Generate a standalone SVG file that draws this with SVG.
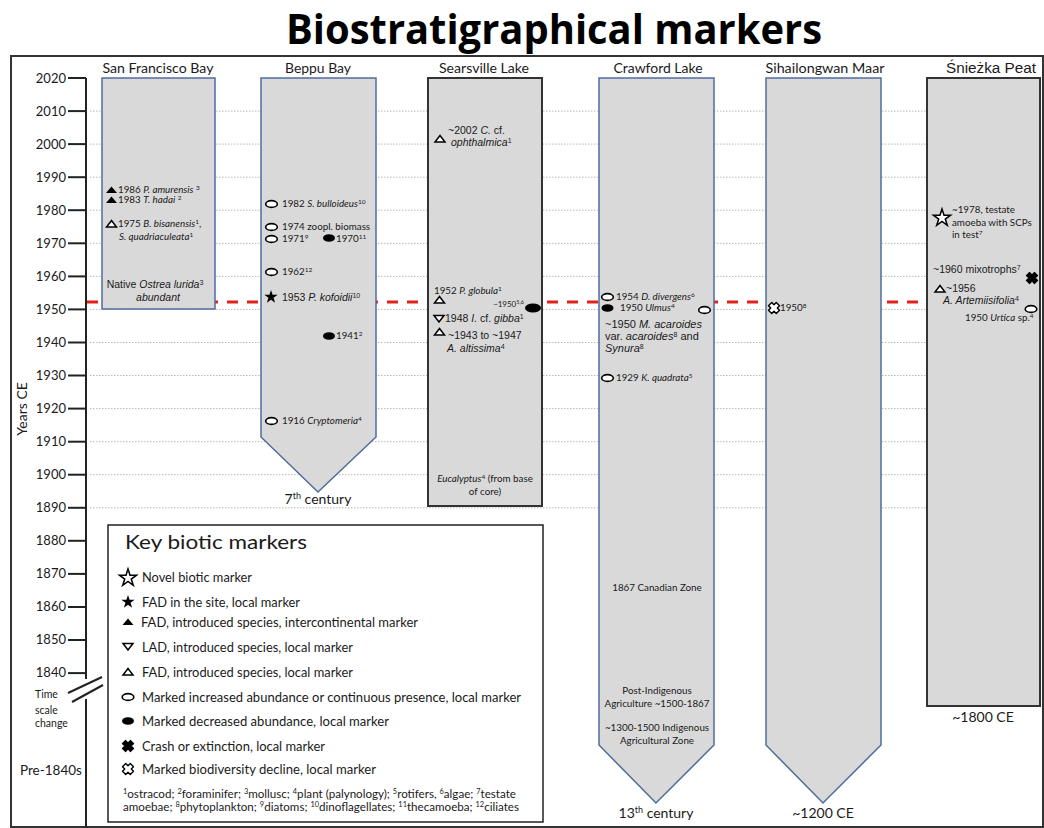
<svg xmlns="http://www.w3.org/2000/svg" width="1044" height="828" viewBox="0 0 1044 828">
<style>
text{font-family:Lato,"Liberation Sans",sans-serif;fill:#1a1a1a}
.ttl{font-family:"Open Sans","Liberation Sans",sans-serif;font-weight:700;font-size:42px;fill:#000}
.ct{font-size:14px}
.ax{font-size:13px;text-anchor:end}
.s{font-size:9.8px}
.a{font-family:"Liberation Sans",Arial,sans-serif;font-size:10.5px}
.lg{font-size:13px}
.fn{font-size:11px}
.m{text-anchor:middle}
.i{font-style:italic}
.grid{stroke:#b8b8b8;stroke-width:1;stroke-dasharray:1.5 1.5}
.tick{stroke:#222;stroke-width:2}
.colb{fill:#d9d9d9;stroke:#4f6c9e;stroke-width:1.5}
.cold{fill:#d9d9d9;stroke:#333;stroke-width:2}
</style>
<defs>
<polygon id="triF" points="-5.5,3 5.5,3 0,-3.5" fill="#000"/>
<polygon id="triO" points="-5,3 5,3 0,-3.5" fill="#fff" stroke="#000" stroke-width="1.5"/>
<polygon id="triD" points="-5,-3 5,-3 0,3.5" fill="#fff" stroke="#000" stroke-width="1.5"/>
<ellipse id="ellO" rx="5.8" ry="3.4" fill="#fff" stroke="#000" stroke-width="1.6"/>
<ellipse id="ellF" rx="6" ry="3.8" fill="#000"/>
<polygon id="starF" points="0,-7 1.57,-2.16 6.66,-2.16 2.54,0.83 4.11,5.66 0,2.67 -4.11,5.66 -2.54,0.83 -6.66,-2.16 -1.57,-2.16" fill="#000"/>
<polygon id="starO" points="0,-9 2.02,-2.78 8.56,-2.78 3.27,1.07 5.28,7.28 0,3.43 -5.28,7.28 -3.27,1.07 -8.56,-2.78 -2.02,-2.78" fill="#fff" stroke="#000" stroke-width="1.5"/>
<path id="crash" transform="rotate(45)" d="M-2.3,-5.8 H2.3 V-2.3 H5.8 V2.3 H2.3 V5.8 H-2.3 V2.3 H-5.8 V-2.3 H-2.3 Z" fill="#000" stroke="#000" stroke-width="1" stroke-linejoin="round"/>
<path id="decl" transform="rotate(45)" d="M-2.3,-5.5 H2.3 V-2.3 H5.5 V2.3 H2.3 V5.5 H-2.3 V2.3 H-5.5 V-2.3 H-2.3 Z" fill="#fff" stroke="#000" stroke-width="1.4" stroke-linejoin="round"/>
</defs>

<rect width="1044" height="828" fill="#fff"/>
<text class="ttl m" x="554" y="44" textLength="536" lengthAdjust="spacingAndGlyphs">Biostratigraphical markers</text>
<rect x="11" y="56" width="1032" height="771" fill="none" stroke="#333" stroke-width="2"/>

<g id="axis">
<g class="grid">
<line x1="90" y1="111.1" x2="1040" y2="111.1"/>
<line x1="90" y1="144.1" x2="1040" y2="144.1"/>
<line x1="90" y1="177.2" x2="1040" y2="177.2"/>
<line x1="90" y1="210.2" x2="1040" y2="210.2"/>
<line x1="90" y1="243.3" x2="1040" y2="243.3"/>
<line x1="90" y1="276.4" x2="1040" y2="276.4"/>
<line x1="90" y1="309.4" x2="1040" y2="309.4"/>
<line x1="90" y1="342.5" x2="1040" y2="342.5"/>
<line x1="90" y1="375.5" x2="1040" y2="375.5"/>
<line x1="90" y1="408.6" x2="1040" y2="408.6"/>
<line x1="90" y1="441.7" x2="1040" y2="441.7"/>
<line x1="90" y1="474.7" x2="1040" y2="474.7"/>
<line x1="90" y1="507.8" x2="1040" y2="507.8"/>
</g>
<line x1="86" y1="78" x2="86" y2="679" stroke="#222" stroke-width="2"/>
<line x1="86" y1="699" x2="86" y2="828" stroke="#222" stroke-width="2"/>
<line x1="68" y1="693" x2="102" y2="677" stroke="#222" stroke-width="2"/>
<line x1="72" y1="702" x2="103" y2="685" stroke="#222" stroke-width="2"/>
<g class="tick">
<line x1="68" y1="78" x2="86" y2="78"/><line x1="68" y1="111.1" x2="86" y2="111.1"/><line x1="68" y1="144.1" x2="86" y2="144.1"/><line x1="68" y1="177.2" x2="86" y2="177.2"/><line x1="68" y1="210.2" x2="86" y2="210.2"/><line x1="68" y1="243.3" x2="86" y2="243.3"/><line x1="68" y1="276.4" x2="86" y2="276.4"/><line x1="68" y1="309.4" x2="86" y2="309.4"/><line x1="68" y1="342.5" x2="86" y2="342.5"/><line x1="68" y1="375.5" x2="86" y2="375.5"/><line x1="68" y1="408.6" x2="86" y2="408.6"/><line x1="68" y1="441.7" x2="86" y2="441.7"/><line x1="68" y1="474.7" x2="86" y2="474.7"/><line x1="68" y1="507.8" x2="86" y2="507.8"/><line x1="68" y1="540.8" x2="86" y2="540.8"/><line x1="68" y1="573.9" x2="86" y2="573.9"/><line x1="68" y1="607" x2="86" y2="607"/><line x1="68" y1="640" x2="86" y2="640"/><line x1="68" y1="673.1" x2="86" y2="673.1"/>
</g>
<text class="ax" x="66" y="83">2020</text><text class="ax" x="66" y="116">2010</text><text class="ax" x="66" y="149">2000</text><text class="ax" x="66" y="182">1990</text><text class="ax" x="66" y="215">1980</text><text class="ax" x="66" y="248">1970</text><text class="ax" x="66" y="281">1960</text><text class="ax" x="66" y="314">1950</text><text class="ax" x="66" y="347">1940</text><text class="ax" x="66" y="380">1930</text><text class="ax" x="66" y="413">1920</text><text class="ax" x="66" y="446">1910</text><text class="ax" x="66" y="479">1900</text><text class="ax" x="66" y="512">1890</text><text class="ax" x="66" y="545">1880</text><text class="ax" x="66" y="578">1870</text><text class="ax" x="66" y="611">1860</text><text class="ax" x="66" y="644">1850</text><text class="ax" x="66" y="677">1840</text>
<text class="ct m" transform="translate(27,409) rotate(-90)">Years CE</text>
<text style="font-size:10.5px" x="35" y="698">Time</text>
<text style="font-size:10.5px" x="35" y="714">scale</text>
<text style="font-size:10.5px" x="35" y="727">change</text>
<text style="font-size:13.5px" x="20" y="775">Pre-1840s</text>
</g>

<g id="connectors">
<line x1="87" y1="302" x2="927" y2="302" stroke="#e3201b" stroke-width="3" stroke-dasharray="11 9"/>
<line x1="700" y1="313.5" x2="689" y2="321" stroke="#000" stroke-width="1"/>
</g>

<g id="sf">
<rect class="colb" x="102" y="78" width="113" height="231"/>
<text class="ct m" x="158" y="73" textLength="111" lengthAdjust="spacingAndGlyphs">San Francisco Bay</text>
<use href="#triF" x="111.5" y="190"/>
<text class="s" x="118" y="193">1986 <tspan class="i">P. amurensis</tspan> <tspan baseline-shift="super" font-size="6.5">3</tspan></text>
<use href="#triF" x="111.5" y="200"/>
<text class="s" x="118" y="203">1983 <tspan class="i">T. hadai</tspan> <tspan baseline-shift="super" font-size="6.5">2</tspan></text>
<use href="#triO" x="111.5" y="224"/>
<text class="s" x="118" y="227">1975 <tspan class="i">B. bisanensis</tspan><tspan baseline-shift="super" font-size="6.5">1</tspan>,</text>
<text class="s i" x="119" y="240">S. quadriaculeata<tspan baseline-shift="super" font-size="6.5" font-style="normal">1</tspan></text>
<text class="a m" x="155" y="288">Native <tspan class="i">Ostrea lurida</tspan><tspan baseline-shift="super" font-size="7">3</tspan></text>
<text class="a m i" x="158" y="301">abundant</text>
</g>

<g id="beppu">
<polygon class="colb" points="261,78 376,78 376,437 318,492 261,437"/>
<text class="ct m" x="318" y="73" textLength="66" lengthAdjust="spacingAndGlyphs">Beppu Bay</text>
<use href="#ellO" x="271.5" y="204"/>
<text class="s" x="282" y="207">1982 <tspan class="i">S. bulloideus</tspan><tspan baseline-shift="super" font-size="6.5">10</tspan></text>
<use href="#ellO" x="271.5" y="227"/>
<text class="s" x="282" y="230">1974 zoopl. biomass</text>
<use href="#ellO" x="271.5" y="239"/>
<text class="s" x="282" y="242">1971<tspan baseline-shift="super" font-size="6.5">9</tspan></text>
<use href="#ellF" x="329" y="238"/>
<text class="s" x="336" y="242">1970<tspan baseline-shift="super" font-size="6.5">11</tspan></text>
<use href="#ellO" x="271.5" y="272"/>
<text class="s" x="282" y="275">1962<tspan baseline-shift="super" font-size="6.5">12</tspan></text>
<use href="#starF" x="271" y="297"/>
<text class="a" x="282" y="301">1953 <tspan class="i">P. kofoidii</tspan><tspan baseline-shift="super" font-size="7">10</tspan></text>
<use href="#ellF" x="329" y="336"/>
<text class="s" x="336" y="339">1941<tspan baseline-shift="super" font-size="6.5">2</tspan></text>
<use href="#ellO" x="271.5" y="421"/>
<text class="s" x="282" y="424">1916 <tspan class="i">Cryptomeria</tspan><tspan baseline-shift="super" font-size="6.5">4</tspan></text>
<text class="ct m" x="318" y="504">7<tspan baseline-shift="super" font-size="9">th</tspan> century</text>
</g>

<g id="searsville">
<rect class="cold" x="428" y="78" width="114" height="428"/>
<text class="ct m" x="484" y="73" textLength="90" lengthAdjust="spacingAndGlyphs">Searsville Lake</text>
<use href="#triO" x="440" y="139"/>
<text class="a" x="448" y="134">~2002 <tspan class="i">C.</tspan> cf.</text>
<text class="a i" x="451" y="146">ophthalmica<tspan baseline-shift="super" font-size="7" font-style="normal">1</tspan></text>
<text class="s" x="434" y="294">1952 <tspan class="i">P. globula</tspan><tspan baseline-shift="super" font-size="6.5">1</tspan></text>
<use href="#triO" x="439.5" y="300"/>
<text style="font-size:8px" x="493" y="307">~1950<tspan baseline-shift="super" font-size="5.5">5,6</tspan></text>
<ellipse cx="533" cy="308" rx="8" ry="4.6" fill="#000"/>
<use href="#triD" x="439" y="318.5"/>
<text class="a" x="445" y="322">1948 <tspan class="i">I.</tspan> cf. <tspan class="i">gibba</tspan><tspan baseline-shift="super" font-size="7">1</tspan></text>
<use href="#triO" x="439.5" y="332"/>
<text class="a" x="448" y="339">~1943 to ~1947</text>
<text class="a i" x="447" y="352">A. altissima<tspan baseline-shift="super" font-size="7" font-style="normal">4</tspan></text>
<text class="s m" x="485" y="482"><tspan class="i">Eucalyptus</tspan><tspan baseline-shift="super" font-size="6.5">4</tspan> (from base</text>
<text class="s m" x="485" y="495">of core)</text>
</g>

<g id="crawford">
<polygon class="colb" points="599,78 714,78 714,745 656,803 599,745"/>
<text class="ct m" x="658" y="73" textLength="89" lengthAdjust="spacingAndGlyphs">Crawford Lake</text>
<use href="#ellO" x="607.5" y="297"/>
<text class="s" x="616" y="300">1954 <tspan class="i">D. divergens</tspan><tspan baseline-shift="super" font-size="6.5">6</tspan></text>
<use href="#ellF" x="607.5" y="308"/>
<text class="s" x="620" y="311">1950 <tspan class="i">Ulmus</tspan><tspan baseline-shift="super" font-size="6.5">4</tspan></text>
<use href="#ellO" x="704.5" y="310"/>
<text class="a" style="font-size:11px" x="605" y="328">~1950 <tspan class="i">M. acaroides</tspan></text>
<text class="a" style="font-size:11px" x="605" y="340">var. <tspan class="i">acaroides</tspan><tspan baseline-shift="super" font-size="7">8</tspan> and</text>
<text class="a i" style="font-size:11px" x="605" y="352">Synura<tspan baseline-shift="super" font-size="7" font-style="normal">8</tspan></text>
<use href="#ellO" x="607.5" y="378"/>
<text class="s" x="616" y="381">1929 <tspan class="i">K. quadrata</tspan><tspan baseline-shift="super" font-size="6.5">5</tspan></text>
<text class="s m" x="657" y="591">1867 Canadian Zone</text>
<text class="s m" x="657" y="694">Post-Indigenous</text>
<text class="s m" x="657" y="707">Agriculture ~1500-1867</text>
<text class="s m" x="657" y="731">~1300-1500 Indigenous</text>
<text class="s m" x="657" y="744">Agricultural Zone</text>
<text class="ct m" x="656" y="818">13<tspan baseline-shift="super" font-size="9">th</tspan> century</text>
</g>

<g id="sihailongwan">
<polygon class="colb" points="766,78 881,78 881,745 823,803 766,745"/>
<text class="ct m" x="825" y="73" textLength="119" lengthAdjust="spacingAndGlyphs">Sihailongwan Maar</text>
<use href="#decl" x="774" y="308"/>
<text class="s" x="780" y="311">1950<tspan baseline-shift="super" font-size="6.5">8</tspan></text>
<text class="ct m" x="823" y="818">~1200 CE</text>
</g>

<g id="sniezka">
<rect class="cold" x="927" y="78" width="113" height="628"/>
<text class="a m" style="font-size:14px" x="991" y="73" textLength="90" lengthAdjust="spacingAndGlyphs">Śnieżka Peat</text>
<use href="#starO" x="942" y="218"/>
<text class="s" x="952" y="213">~1978, testate</text>
<text class="s" x="952" y="226">amoeba with SCPs</text>
<text class="s" x="952" y="238">in test<tspan baseline-shift="super" font-size="6.5">7</tspan></text>
<text class="a" x="933" y="273">~1960 mixotrophs<tspan baseline-shift="super" font-size="7">7</tspan></text>
<use href="#crash" x="1032" y="278"/>
<use href="#triO" x="940" y="289"/>
<text class="a" x="946" y="292">~1956</text>
<text class="a i" x="943" y="304">A. Artemiisifolia<tspan baseline-shift="super" font-size="7" font-style="normal">4</tspan></text>
<use href="#ellO" x="1031" y="309"/>
<text class="s" x="965" y="321">1950 <tspan class="i">Urtica</tspan> sp.<tspan baseline-shift="super" font-size="6.5">4</tspan></text>
<text class="ct m" x="983" y="722">~1800 CE</text>
</g>

<g id="legend">
<rect x="108" y="525" width="435" height="297" fill="#fff" stroke="#222" stroke-width="1.5"/>
<text x="125" y="549" style="font-size:19px" textLength="182" lengthAdjust="spacingAndGlyphs">Key biotic markers</text>
<use href="#starO" x="128" y="578"/>
<text class="lg" x="142" y="582" textLength="110" lengthAdjust="spacingAndGlyphs">Novel biotic marker</text>
<use href="#starF" x="128" y="602"/>
<text class="lg" x="142" y="607" textLength="158" lengthAdjust="spacingAndGlyphs">FAD in the site, local marker</text>
<use href="#triF" x="128" y="622"/>
<text class="lg" x="141" y="627" textLength="277" lengthAdjust="spacingAndGlyphs">FAD, introduced species, intercontinental marker</text>
<use href="#triD" x="128" y="646.5"/>
<text class="lg" x="142" y="652" textLength="211" lengthAdjust="spacingAndGlyphs">LAD, introduced species, local marker</text>
<use href="#triO" x="128" y="672"/>
<text class="lg" x="142" y="677" textLength="211" lengthAdjust="spacingAndGlyphs">FAD, introduced species, local marker</text>
<use href="#ellO" x="128" y="697"/>
<text class="lg" x="142" y="702" textLength="379" lengthAdjust="spacingAndGlyphs">Marked increased abundance or continuous presence, local marker</text>
<use href="#ellF" x="128" y="721"/>
<text class="lg" x="142" y="726" textLength="247" lengthAdjust="spacingAndGlyphs">Marked decreased abundance, local marker</text>
<use href="#crash" x="128" y="746"/>
<text class="lg" x="142" y="751" textLength="183" lengthAdjust="spacingAndGlyphs">Crash or extinction, local marker</text>
<use href="#decl" x="128" y="769"/>
<text class="lg" x="142" y="774" textLength="234" lengthAdjust="spacingAndGlyphs">Marked biodiversity decline, local marker</text>
<text class="fn" x="123" y="798" textLength="393" lengthAdjust="spacingAndGlyphs"><tspan baseline-shift="super" font-size="7">1</tspan>ostracod; <tspan baseline-shift="super" font-size="7">2</tspan>foraminifer; <tspan baseline-shift="super" font-size="7">3</tspan>mollusc; <tspan baseline-shift="super" font-size="7">4</tspan>plant (palynology); <tspan baseline-shift="super" font-size="7">5</tspan>rotifers, <tspan baseline-shift="super" font-size="7">6</tspan>algae; <tspan baseline-shift="super" font-size="7">7</tspan>testate</text>
<text class="fn" x="123" y="811" textLength="396" lengthAdjust="spacingAndGlyphs">amoebae; <tspan baseline-shift="super" font-size="7">8</tspan>phytoplankton; <tspan baseline-shift="super" font-size="7">9</tspan>diatoms; <tspan baseline-shift="super" font-size="7">10</tspan>dinoflagellates; <tspan baseline-shift="super" font-size="7">11</tspan>thecamoeba; <tspan baseline-shift="super" font-size="7">12</tspan>ciliates</text>
</g>
</svg>
